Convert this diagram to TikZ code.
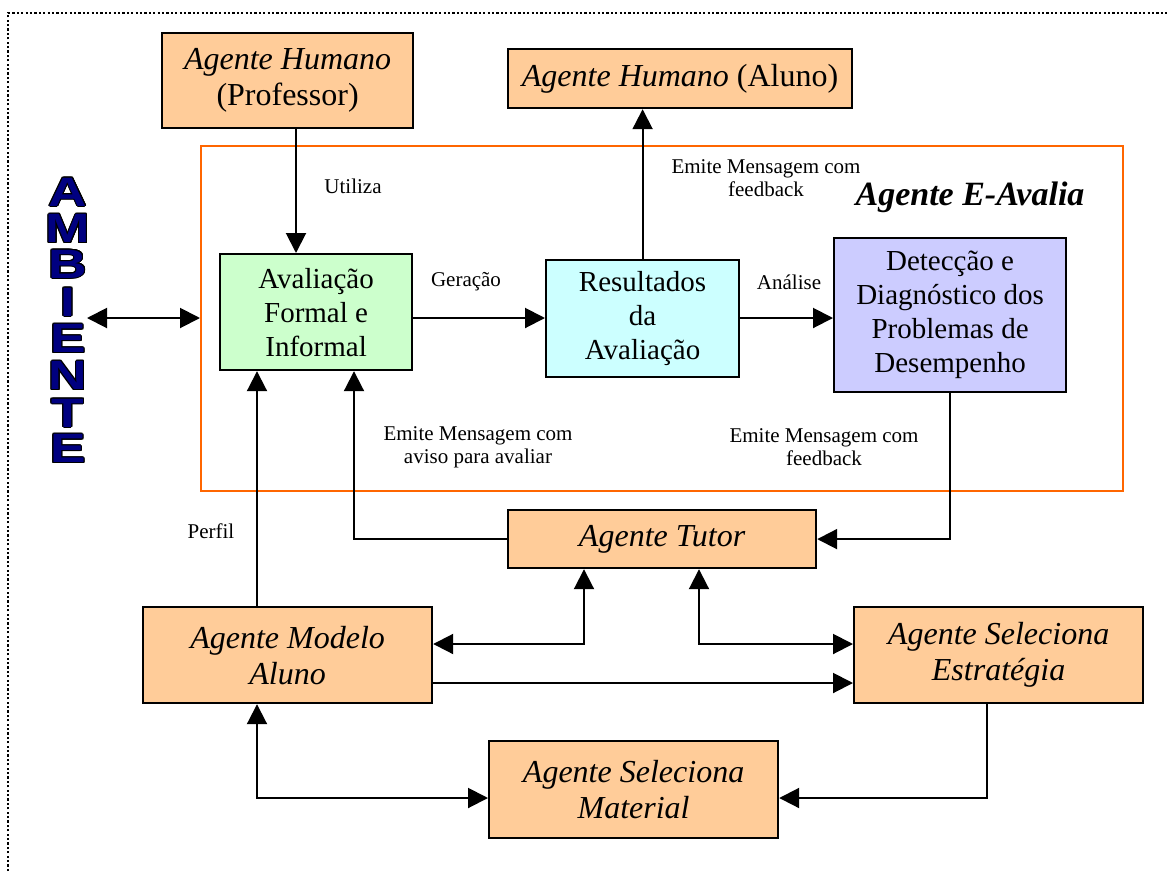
\documentclass[tikz,border=0pt]{standalone}
\usepackage{fontspec}
\setmainfont{Liberation Serif}
\newfontfamily\ambfont{Liberation Sans}
\usepackage{contour}
\contourlength{0.8pt}
\contournumber{16}
\usetikzlibrary{arrows.meta,calc}
\definecolor{peach}{HTML}{FFCC99}
\definecolor{mint}{HTML}{CCFFCC}
\definecolor{aqua}{HTML}{CCFFFF}
\definecolor{lav}{HTML}{CCCCFF}
\definecolor{orng}{HTML}{FF6600}
\definecolor{navyb}{HTML}{000080}
\tikzset{
  box/.style={draw=black, line width=2.2pt, inner sep=0pt, align=center, anchor=north west},
  obox/.style={box, fill=peach, font=\fontsize{32}{36}\selectfont\itshape},
  cbox/.style={box, font=\fontsize{29}{34}\selectfont},
  lbl/.style={font=\fontsize{21}{23}\selectfont, align=center, inner sep=0pt},
  con/.style={line width=2pt, -{Triangle[length=20pt,width=20pt]}},
  dcon/.style={line width=2pt, {Triangle[length=20pt,width=20pt]}-{Triangle[length=20pt,width=20pt]}},
  ambl/.style={inner sep=0pt, font=\ambfont\bfseries\fontsize{41}{41}\selectfont},
}
\begin{document}
\begin{tikzpicture}[x=1pt,y=-1pt]
\useasboundingbox (0,0) rectangle (1168,871);
% dotted outer frame (cropped)
\draw[line width=2pt, dash pattern=on 2.2pt off 2.2pt] (8,871) -- (8,13) -- (1168,13);

% orange agent frame
\node[draw=orng, line width=2pt, inner sep=0pt, minimum width=922pt, minimum height=345pt, anchor=north west] (frame) at (200,145) {};

% boxes
\node[obox, minimum width=251pt, minimum height=95pt] (prof) at (161,32) {Agente Humano\\\upshape(Professor)};
\node[obox, minimum width=344pt, minimum height=59pt] (aluno) at (507,48) {Agente Humano \upshape(Aluno)};
\node[cbox, fill=mint, minimum width=192pt, minimum height=116pt] (aval) at (219,253) {Avaliação\\Formal e\\Informal};
\node[cbox, fill=aqua, minimum width=193pt, minimum height=117pt] (res) at (545,259) {Resultados\\da\\Avaliação};
\node[cbox, fill=lav, minimum width=232pt, minimum height=154pt] (det) at (833,237) {Detecção e\\Diagnóstico dos\\Problemas de\\Desempenho};
\node[obox, minimum width=308pt, minimum height=58pt] (tutor) at (507,509) {Agente Tutor};
\node[obox, minimum width=289pt, minimum height=96pt] (modelo) at (142,606) {Agente Modelo\\Aluno};
\node[obox, minimum width=289pt, minimum height=96pt] (estr) at (853,606) {Agente Seleciona\\Estratégia};
\node[obox, minimum width=289pt, minimum height=97pt] (mat) at (488,740) {Agente Seleciona\\Material};

% title of agent frame
\node[inner sep=0pt, font=\fontsize{34}{38}\selectfont\bfseries\itshape] (title) at (970,197) {Agente E-Avalia};

% AMBIENTE
\foreach \l/\y [count=\i] in {A/192.5, M/229, B/264.5, I/302.5, E/339, N/376, T/413.5, E/449}
  \node[ambl] (amb\i) at (68,\y) {\scalebox{1.3}[1]{\contour{black}{\textcolor{navyb}{\l}}}};

% helper coordinates
\coordinate (ambR) at (87,318);
\coordinate (c296) at (296,0);
\coordinate (c354) at (354,0);
\coordinate (c257) at (257,0);
\coordinate (c584) at (584,0);
\coordinate (c699) at (699,0);
\coordinate (c987) at (987,0);
\coordinate (y318) at (0,318);
\coordinate (y644) at (0,644);
\coordinate (y683) at (0,683);
\coordinate (y798) at (0,798);

% connectors
\draw[con] (prof.south -| c296) -- (aval.north -| c296);
\draw[dcon] (ambR) -- (frame.west |- y318);
\draw[con] (aval.east |- y318) -- (res.west |- y318);
\draw[con] (res.east |- y318) -- (det.west |- y318);
\draw[con] (res.north) -- (res.north |- aluno.south);
\draw[con] (det.south) |- (tutor.east);
\draw[con] (tutor.west) -| (aval.south -| c354);
\draw[con] (modelo.north -| c257) -- (aval.south -| c257);
\draw[dcon] (tutor.south -| c584) |- (modelo.east |- y644);
\draw[dcon] (tutor.south -| c699) |- (estr.west |- y644);
\draw[con] (modelo.east |- y683) -- (estr.west |- y683);
\draw[dcon] (modelo.south -| c257) |- (mat.west |- y798);
\draw[con] (estr.south -| c987) |- (mat.east |- y798);

% labels
\node[lbl] (lutil) at (353,186) {Utiliza};
\node[lbl] (lger) at (466,282) {Geração};
\node[lbl] (lana) at (789,282) {Análise};
\node[lbl] (lfb1) at (766,178) {Emite Mensagem com\\feedback};
\node[lbl] (laviso) at (478,447) {Emite Mensagem com\\aviso para avaliar};
\node[lbl] (lfb2) at (824,447) {Emite Mensagem com\\feedback};
\node[lbl] (lperf) at (211,531) {Perfil};
\end{tikzpicture}
\end{document}
